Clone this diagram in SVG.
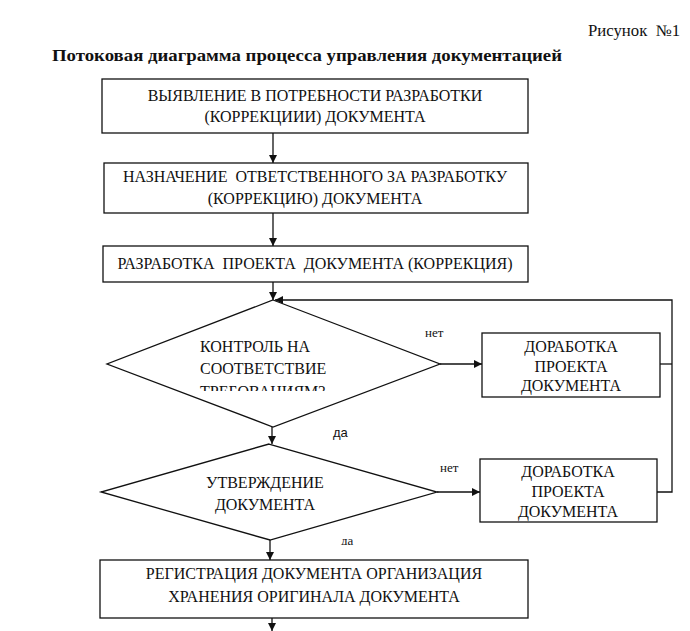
<svg xmlns="http://www.w3.org/2000/svg" width="690" height="631" viewBox="0 0 690 631">
<style>
.box{fill:#fff;stroke:#111;stroke-width:1.3}
.t{font-family:"Liberation Serif","Times New Roman",serif;font-size:16px;fill:#111}
.c{text-anchor:middle}
.lbl{font-family:"Liberation Serif","Times New Roman",serif;font-size:13px;fill:#111}
.lbls{font-family:"Liberation Sans",Arial,sans-serif;font-size:13px;fill:#111}
.ln{fill:none;stroke:#111;stroke-width:1.3}
</style>
<defs>
<marker id="ah" viewBox="0 0 10 10" refX="10" refY="5" markerWidth="8" markerHeight="8" markerUnits="userSpaceOnUse" orient="auto"><path d="M0,0L10,5L0,10z" fill="#111"/></marker>
<clipPath id="clip1"><rect x="100" y="300" width="340" height="91"/></clipPath>
<clipPath id="clip2"><rect x="330" y="530" width="40" height="15"/></clipPath>
</defs>
<rect width="690" height="631" fill="#fff"/>
<text class="t" x="588" y="36" font-size="15" textLength="92" lengthAdjust="spacingAndGlyphs" xml:space="preserve">Рисунок  №1</text>
<text class="t" x="52" y="61" font-size="19" font-weight="bold" textLength="510" lengthAdjust="spacingAndGlyphs">Потоковая диаграмма процесса управления документацией</text>

<g id="connectors">
<path class="ln" d="M273,133V163" marker-end="url(#ah)"/>
<path class="ln" d="M273,213V246" marker-end="url(#ah)"/>
<path class="ln" d="M273,282V300" marker-end="url(#ah)"/>
<path class="ln" d="M440,364H482" marker-end="url(#ah)"/>
<path class="ln" d="M660,364H672"/>
<path class="ln" d="M657,492H672V300H275" marker-end="url(#ah)"/>
<path class="ln" d="M272,427V444" marker-end="url(#ah)"/>
<path class="ln" d="M437,492H480" marker-end="url(#ah)"/>
<path class="ln" d="M270,540V560" marker-end="url(#ah)"/>
<path class="ln" d="M272,618V631" marker-end="url(#ah)"/>
<text class="lbl" x="425" y="337">нет</text>
<text class="lbls" x="333" y="437">да</text>
<text class="lbl" x="440" y="472">нет</text>
<text class="lbl" x="341" y="545" clip-path="url(#clip2)">да</text>
</g>

<g id="n1">
<rect class="box" x="102" y="79" width="426" height="54"/>
<text class="t c" x="315" y="101">ВЫЯВЛЕНИЕ В ПОТРЕБНОСТИ РАЗРАБОТКИ</text>
<text class="t c" x="315" y="122">(КОРРЕКЦИИИ) ДОКУМЕНТА</text>
</g>
<g id="n2">
<rect class="box" x="104" y="163" width="424" height="50"/>
<text class="t c" x="315" y="182" xml:space="preserve">НАЗНАЧЕНИЕ  ОТВЕТСТВЕННОГО ЗА РАЗРАБОТКУ</text>
<text class="t c" x="315" y="204">(КОРРЕКЦИЮ) ДОКУМЕНТА</text>
</g>
<g id="n3">
<rect class="box" x="103" y="246" width="425" height="36"/>
<text class="t c" x="315" y="269" xml:space="preserve">РАЗРАБОТКА  ПРОЕКТА  ДОКУМЕНТА (КОРРЕКЦИЯ)</text>
</g>
<g id="n4">
<polygon class="box" points="273,300 440,364 273,427 107,364"/>
<g clip-path="url(#clip1)">
<text class="t" x="200" y="352">КОНТРОЛЬ НА</text>
<text class="t" x="200" y="374">СООТВЕТСТВИЕ</text>
<text class="t" x="200" y="397">ТРЕБОВАНИЯМ?</text>
</g>
</g>
<g id="n5">
<rect class="box" x="482" y="333" width="178" height="64"/>
<text class="t c" x="571" y="352" font-size="15">ДОРАБОТКА</text>
<text class="t c" x="571" y="372" font-size="15">ПРОЕКТА</text>
<text class="t c" x="571" y="391" font-size="15">ДОКУМЕНТА</text>
</g>
<g id="n6">
<polygon class="box" points="269,444 437,492 270,540 101,492"/>
<text class="t c" x="265" y="488">УТВЕРЖДЕНИЕ</text>
<text class="t c" x="265" y="510">ДОКУМЕНТА</text>
</g>
<g id="n7">
<rect class="box" x="480" y="459" width="177" height="63"/>
<text class="t c" x="568" y="477" font-size="15">ДОРАБОТКА</text>
<text class="t c" x="568" y="497" font-size="15">ПРОЕКТА</text>
<text class="t c" x="568" y="517" font-size="15">ДОКУМЕНТА</text>
</g>
<g id="n8">
<rect class="box" x="100" y="560" width="428" height="58"/>
<text class="t c" x="314" y="579">РЕГИСТРАЦИЯ ДОКУМЕНТА ОРГАНИЗАЦИЯ</text>
<text class="t c" x="314" y="602">ХРАНЕНИЯ ОРИГИНАЛА ДОКУМЕНТА</text>
</g>
</svg>
